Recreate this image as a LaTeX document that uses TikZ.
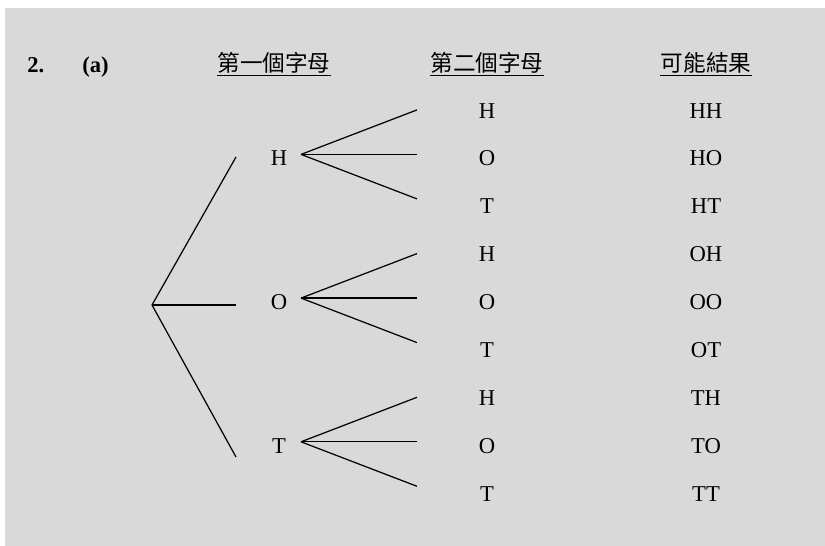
\documentclass[tikz,border=0pt]{standalone}
\usepackage{fontspec}
\setmainfont{Liberation Serif}
\newfontfamily\cjkfont{Noto Sans CJK TC}
\definecolor{bggray}{HTML}{D9D9D9}
\begin{document}
\begin{tikzpicture}[x=0.53pt,y=-0.53pt,
    every node/.style={font=\fontsize{12}{14}\selectfont, inner sep=0pt},
    letter/.style={anchor=base},
    header/.style={anchor=base, font=\fontsize{12}{14}\selectfont\cjkfont},
    branch/.style={line width=0.65pt}]
        % Фон
        \useasboundingbox (0,0) rectangle (825,546);
        \fill[bggray] (5,8) rectangle (825,546);

        % Номер задачи и заголовки столбцов
        \node[anchor=base west, font=\fontsize{12}{14}\selectfont\bfseries] (num) at (27,72) {2.};
        \node[anchor=base west, font=\fontsize{12}{14}\selectfont\bfseries] (part) at (82,72) {(a)};
        \node[header] (hfirst) at (274,71) {第一個字母};
        \node[header] (hsecond) at (487,71) {第二個字母};
        \node[header] (hresult) at (706,71) {可能結果};
        \foreach \h in {hfirst,hsecond,hresult}
            \draw[line width=0.8pt] ([yshift=-2.4pt]\h.base west) -- ([yshift=-2.4pt]\h.base east);

        % Корень дерева
        \coordinate (root) at (152,305);
        \coordinate (rH) at (236,157);
        \coordinate (rO) at (236,305);
        \coordinate (rT) at (236,457);
        \foreach \e in {rH,rO,rT}
            \draw[branch] (root) -- (\e);

        % Первая и вторая буквы, результаты
        \foreach \first [count=\i from 0] in {H,O,T} {
            \pgfmathsetmacro{\ymid}{110.5+47.9*(3*\i+1)}
            \node[letter] (f\first) at (279,{\ymid+7.5}) {\first};
            \coordinate (s\first) at (301,{\ymid-4});
            \foreach \second [count=\j from 0] in {H,O,T} {
                \pgfmathsetmacro{\yrow}{110.5+47.9*(3*\i+\j)}
                \node[letter] (\first\second) at (487,{\yrow+7.5}) {\second};
                \node[letter] (r\first\second) at (706,{\yrow+7.5}) {\first\second};
                \coordinate (e\first\second) at (417,{\ymid-4+44.5*(\j-1)});
                \draw[branch] (s\first) -- (e\first\second);
            }
        }
\end{tikzpicture}
\end{document}
